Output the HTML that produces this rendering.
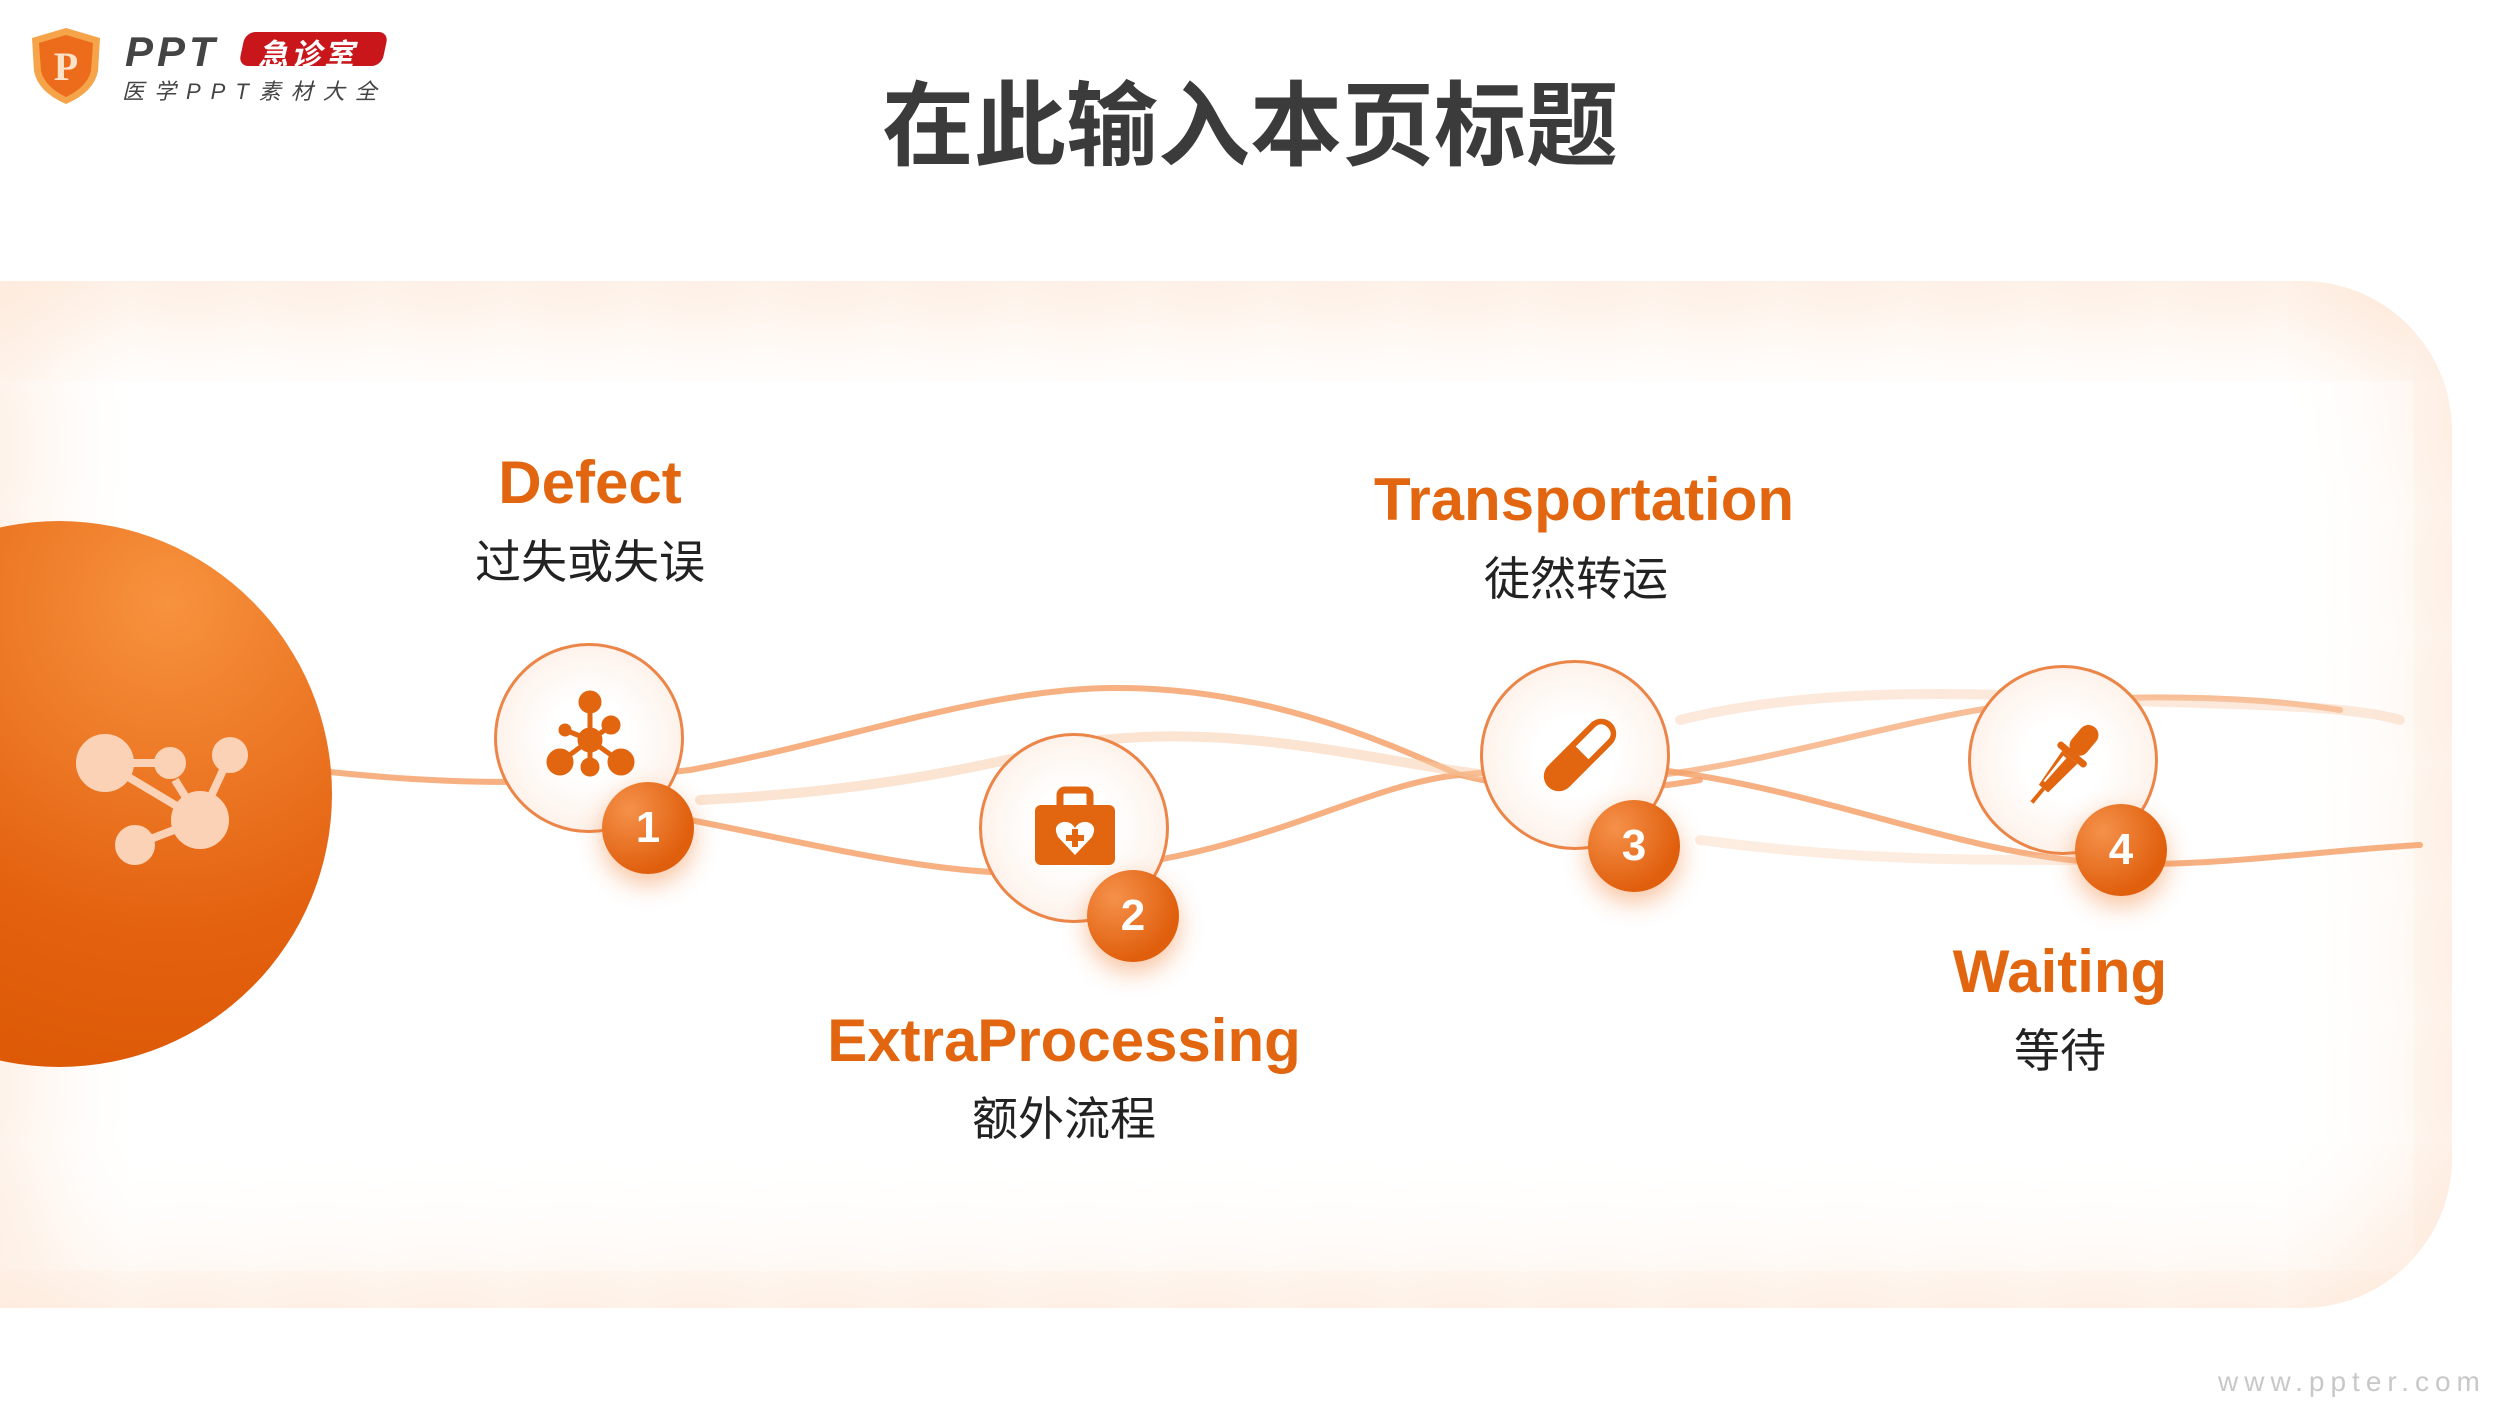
<!DOCTYPE html>
<html><head><meta charset="utf-8"><style>
html,body{margin:0;padding:0;width:2500px;height:1406px;overflow:hidden;background:#fff;font-family:"Liberation Sans","Noto Sans CJK SC",sans-serif;}
.abs{position:absolute;}
.panel{left:-10px;top:281px;width:2462px;height:1027px;border-radius:0 150px 150px 0;background:#fff;box-shadow:inset 0 0 200px 10px #fcd9bf;}
.title{left:0;width:2500px;top:52px;text-align:center;font-size:92px;font-weight:bold;color:#3b3b3b;font-family:"Noto Sans CJK SC",sans-serif;}
.en{font-weight:bold;color:#e2660f;font-size:60px;text-align:center;width:700px;font-family:"Liberation Sans","Noto Sans CJK SC",sans-serif;}
.cn{color:#222;font-size:46px;text-align:center;width:600px;font-family:"Noto Sans CJK SC",sans-serif;}
.node{width:190px;height:190px;border-radius:50%;border:3px solid #ec8548;background:radial-gradient(circle at 50% 50%,#fff 30%,#fdeadd 100%);box-sizing:border-box;}
.badge{width:92px;height:92px;border-radius:50%;background:radial-gradient(circle at 30% 30%,#f5914a,#e05f0d 70%);box-shadow:0 10px 25px rgba(240,120,40,.45);color:#fff;font-weight:bold;font-size:44px;text-align:center;line-height:92px;}
</style></head><body>
<div class="abs panel"></div>
<svg class="abs" style="left:0;top:0" width="2500" height="1406">
<g fill="none" stroke-linecap="round">
<path d="M330 772 C500 790 600 780 690 770 C850 740 980 690 1110 688 C1260 686 1380 740 1460 775 C1560 800 1640 790 1700 780" stroke="#f4a26b" stroke-width="6" opacity=".85"/>
<path d="M690 820 C820 845 950 880 1060 872 C1250 860 1350 790 1450 776 C1520 768 1600 765 1660 770 C1820 790 1950 850 2090 862 C2200 870 2320 850 2420 845" stroke="#f4a26b" stroke-width="6" opacity=".85"/>
<path d="M1660 775 C1780 760 1900 720 2010 705 C2150 690 2280 700 2340 710" stroke="#f4a26b" stroke-width="6" opacity=".7"/>
<path d="M700 800 C900 790 1000 760 1100 740 C1300 720 1450 790 1600 780" stroke="#f8c9a6" stroke-width="10" opacity=".5"/>
<path d="M1680 720 C1800 690 1950 690 2100 700 C2250 705 2350 705 2400 720" stroke="#f8c9a6" stroke-width="10" opacity=".4"/>
<path d="M1700 840 C1850 860 1950 860 2100 860" stroke="#f8c9a6" stroke-width="10" opacity=".35"/>
</g>
</svg>
<div class="abs" style="left:-214px;top:521px;width:546px;height:546px;border-radius:50%;background:radial-gradient(circle at 70% 15%,#f7923e,#e3610f 55%,#d85300);"></div>
<svg class="abs" style="left:60px;top:720px" width="200" height="160" viewBox="0 0 200 160">
<g stroke="#fcd2b6" stroke-width="8" fill="#fcd2b6">
<line x1="45" y1="43" x2="110" y2="43"/><line x1="45" y1="43" x2="140" y2="100"/><line x1="140" y1="100" x2="170" y2="35"/><line x1="140" y1="100" x2="115" y2="60"/><line x1="140" y1="100" x2="75" y2="125"/>
<circle cx="45" cy="43" r="25"/><circle cx="110" cy="43" r="12"/><circle cx="170" cy="35" r="14"/><circle cx="140" cy="100" r="25"/><circle cx="75" cy="125" r="16"/>
</g></svg>
<div class="abs title">在此输入本页标题</div>
<!-- logo -->
<svg class="abs" style="left:28px;top:26px" width="76" height="80" viewBox="0 0 76 80"><path d="M38 2 L72 12 L70 45 Q66 66 38 78 Q10 66 6 45 L4 12 Z" fill="#f5a44a"/><path d="M38 9 L65 17 L63 45 Q59 61 38 71 Q17 61 13 45 L11 17 Z" fill="#ec6c1c"/><text x="38" y="54" font-size="40" font-family="Liberation Serif" fill="#fde2c8" text-anchor="middle" font-weight="bold">P</text></svg>
<div class="abs" style="left:125px;top:28px;font-size:42px;font-weight:bold;font-style:italic;color:#444;letter-spacing:4px;">PPT</div>
<div class="abs" style="left:242px;top:32px;width:143px;height:34px;background:#c8161b;border-radius:10px;transform:skewX(-12deg);"></div>
<div class="abs" style="left:258px;top:30px;font-size:30px;font-weight:bold;color:#fff;font-style:italic;font-family:'Noto Sans CJK SC',sans-serif;letter-spacing:3px;">急诊室</div>
<div class="abs" style="left:122px;top:74px;font-size:22px;color:#444;letter-spacing:10px;font-style:italic;font-family:'Liberation Sans','Noto Sans CJK SC',sans-serif;">医学PPT素材大全</div>
<!-- nodes -->
<div class="abs node" style="left:494px;top:643px"></div>
<div class="abs node" style="left:979px;top:733px"></div>
<div class="abs node" style="left:1480px;top:660px"></div>
<div class="abs node" style="left:1968px;top:665px"></div>
<!-- icons -->
<svg class="abs" style="left:545px;top:690px" width="90" height="90" viewBox="0 0 90 90"><g fill="#e2660f" stroke="#e2660f" stroke-width="5"><line x1="45" y1="15" x2="45" y2="50"/><line x1="45" y1="50" x2="15" y2="72"/><line x1="45" y1="50" x2="76" y2="72"/><line x1="45" y1="50" x2="45" y2="75"/><line x1="45" y1="50" x2="20" y2="40"/><line x1="45" y1="50" x2="66" y2="36"/><circle cx="45" cy="12" r="9"/><circle cx="45" cy="50" r="10"/><circle cx="15" cy="72" r="11"/><circle cx="76" cy="72" r="11"/><circle cx="45" cy="77" r="7"/><circle cx="20" cy="40" r="4"/><circle cx="66" cy="35" r="7"/></g></svg>
<svg class="abs" style="left:1030px;top:785px" width="90" height="85" viewBox="0 0 90 85"><rect x="30" y="5" width="30" height="20" rx="5" fill="none" stroke="#e2660f" stroke-width="7"/><rect x="5" y="20" width="80" height="60" rx="6" fill="#e2660f"/><path d="M45 70 L28 52 Q22 40 33 37 Q41 36 45 43 Q49 36 57 37 Q68 40 62 52 Z" fill="#fff"/><path d="M42 44h6v6h6v6h-6v6h-6v-6h-6v-6h6z" fill="#e2660f"/></svg>
<svg class="abs" style="left:1535px;top:710px" width="90" height="90" viewBox="0 0 90 90"><g transform="rotate(45 45 45)"><rect x="30" y="0" width="30" height="90" rx="15" fill="#e2660f"/><path d="M36 15 Q36 6 45 6 Q54 6 54 15 L54 42 L36 42 Z" fill="#fff"/></g></svg>
<svg class="abs" style="left:2015px;top:715px" width="95" height="100" viewBox="0 0 95 100"><g transform="rotate(40 47 50)"><rect x="38" y="0" width="20" height="34" rx="10" fill="#e2660f"/><rect x="30" y="32" width="36" height="7" rx="3" fill="#e2660f"/><path d="M38 39 L58 39 L54 80 L42 80 Z" fill="#e2660f"/><path d="M42 42 L46 42 L45 74 L43 74 Z" fill="#fff"/><rect x="46" y="80" width="4" height="18" fill="#e2660f"/></g></svg>
<!-- badges -->
<div class="abs badge" style="left:602px;top:782px">1</div>
<div class="abs badge" style="left:1087px;top:870px">2</div>
<div class="abs badge" style="left:1588px;top:800px">3</div>
<div class="abs badge" style="left:2075px;top:804px">4</div>
<!-- labels -->
<div class="abs en" style="left:240px;top:448px">Defect</div>
<div class="abs cn" style="left:290px;top:526px">过失或失误</div>
<div class="abs en" style="left:1234px;top:465px">Transportation</div>
<div class="abs cn" style="left:1276px;top:543px">徒然转运</div>
<div class="abs en" style="left:714px;top:1006px">ExtraProcessing</div>
<div class="abs cn" style="left:764px;top:1083px">额外流程</div>
<div class="abs en" style="left:1710px;top:937px">Waiting</div>
<div class="abs cn" style="left:1760px;top:1015px">等待</div>
<div class="abs" style="left:2218px;top:1366px;font-size:28px;color:#c8c8c8;letter-spacing:6px;">www.ppter.com</div>
</body></html>
